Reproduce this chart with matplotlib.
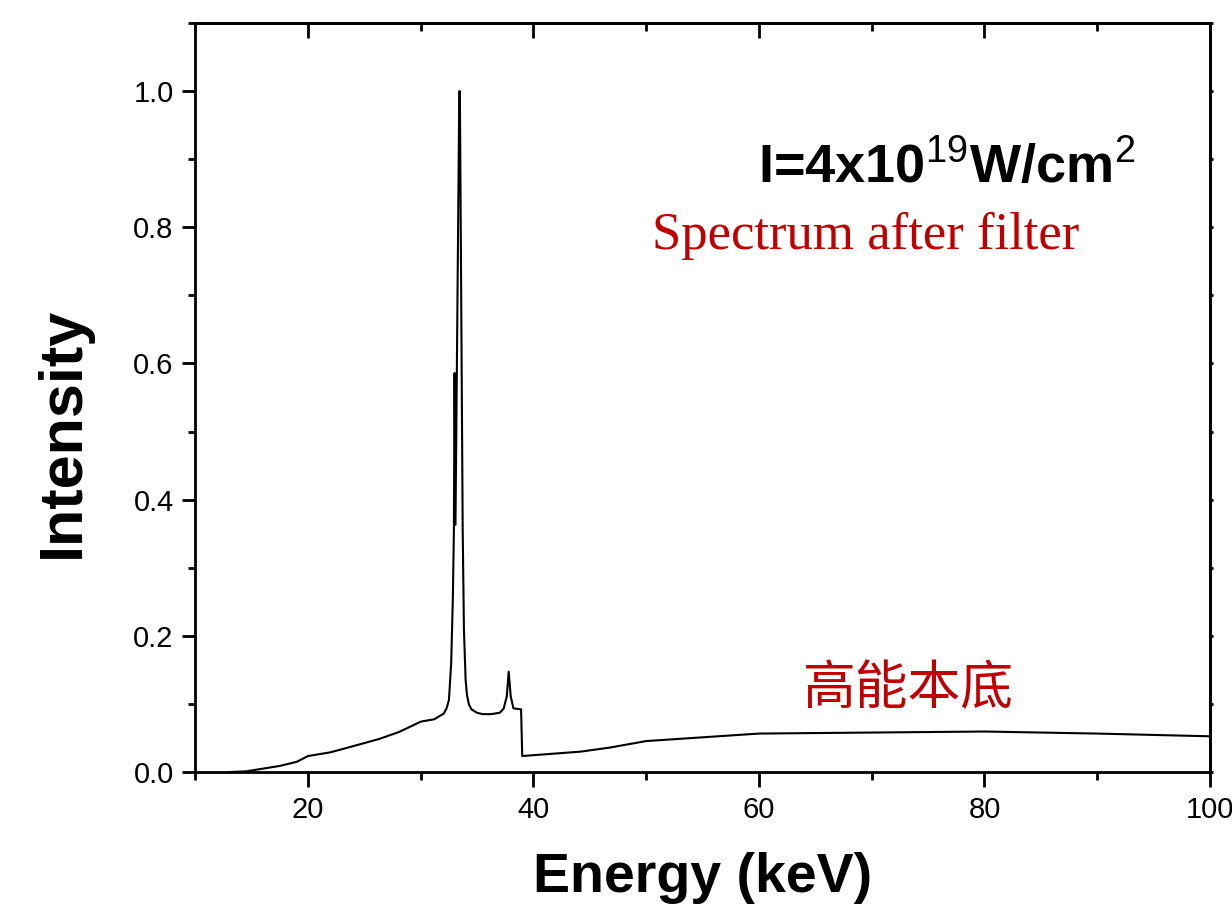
import matplotlib
matplotlib.use('Agg')
import matplotlib.pyplot as plt
from matplotlib.ticker import MultipleLocator

plt.rcParams['font.family'] = ['Liberation Sans', 'DejaVu Sans']
plt.rcParams['mathtext.fontset'] = 'custom'
plt.rcParams['mathtext.rm'] = 'Liberation Sans'
plt.rcParams['mathtext.bf'] = 'Liberation Sans:bold'

# spectrum (keV, normalised intensity)
energy = [13.0, 14.5, 16.0, 17.5, 19.0, 20.0, 22.0, 24.0, 26.3, 28.1, 30.0,
          31.2, 32.05, 32.3, 32.5, 32.7, 32.85, 32.94, 33.0, 33.08, 33.42,
          33.47, 33.72, 33.83, 33.98, 34.1, 34.28, 34.5, 35.0, 35.5, 36.2,
          37.0, 37.35, 37.63, 37.8, 37.98, 38.22, 38.9, 39.0, 44.2, 46.8,
          50.0, 60.0, 70.0, 80.0, 90.0, 100.0]
intensity = [0.0, 0.001, 0.005, 0.009, 0.015, 0.0235, 0.029, 0.038, 0.0485,
             0.059, 0.074, 0.0775, 0.086, 0.094, 0.106, 0.16, 0.258, 0.356,
             0.586, 0.363, 1.0, 1.0, 0.356, 0.209, 0.135, 0.113, 0.099, 0.092,
             0.087, 0.085, 0.085, 0.087, 0.093, 0.111, 0.1475, 0.111, 0.0936,
             0.092, 0.0235, 0.030, 0.036, 0.0455, 0.0565, 0.058, 0.0595,
             0.0565, 0.0525]

fig = plt.figure(figsize=(12.32, 9.07), dpi=100)
ax = fig.add_axes([0.1585, 0.1488, 0.8236, 0.8258])

ax.plot(energy, intensity, color='black', lw=1.5)

ax.set_xlim(10, 100)
ax.set_ylim(0, 1.1)
ax.xaxis.set_major_locator(MultipleLocator(20))
ax.xaxis.set_minor_locator(MultipleLocator(10))
ax.yaxis.set_major_locator(MultipleLocator(0.2))
ax.yaxis.set_minor_locator(MultipleLocator(0.1))
ax.yaxis.set_major_formatter(matplotlib.ticker.FormatStrFormatter('%.1f'))

for s in ax.spines.values():
    s.set_linewidth(2)
ax.tick_params(axis='x', which='major', direction='out', length=11, width=2,
               labelsize=21, pad=6)
ax.tick_params(axis='x', which='minor', direction='out', length=6, width=2)
ax.tick_params(axis='y', which='major', direction='out', length=9.5, width=2,
               labelsize=21, pad=6)
ax.tick_params(axis='y', which='minor', direction='out', length=5, width=2)

top = ax.secondary_xaxis('top')
top.xaxis.set_major_locator(MultipleLocator(20))
top.xaxis.set_minor_locator(MultipleLocator(10))
top.tick_params(which='major', direction='in', length=11, width=2, labeltop=False)
top.tick_params(which='minor', direction='in', length=6, width=2)
top.spines['top'].set_linewidth(2)

right = ax.secondary_yaxis('right')
right.yaxis.set_major_locator(MultipleLocator(0.2))
right.yaxis.set_minor_locator(MultipleLocator(0.1))
right.tick_params(which='both', direction='out', length=2, width=2, labelright=False)
right.spines['right'].set_linewidth(2)

ax.set_xlabel('Energy (keV)', fontsize=40, fontweight='bold')
ax.xaxis.set_label_coords(0.5, -0.107)
ax.set_ylabel('Intensity', fontsize=44, fontweight='bold')
ax.yaxis.set_label_coords(-0.1016, 0.454)

ax.text(59.9, 0.866, r'I=4x10$^{\mathrm{19}}$W/cm$^{\mathrm{2}}$', fontsize=39,
        fontweight='bold', va='baseline', ha='left')
ax.text(50.5, 0.768, 'Spectrum after filter', fontsize=38, color='#C00000',
        family=['Liberation Serif', 'DejaVu Serif'], va='baseline', ha='left')
ax.text(63.9, 0.122, '高能本底', fontsize=38, color='#C00000',
        family=['Noto Sans CJK SC', 'DejaVu Sans'], va='center', ha='left')

fig.savefig('out.png', dpi=100)
